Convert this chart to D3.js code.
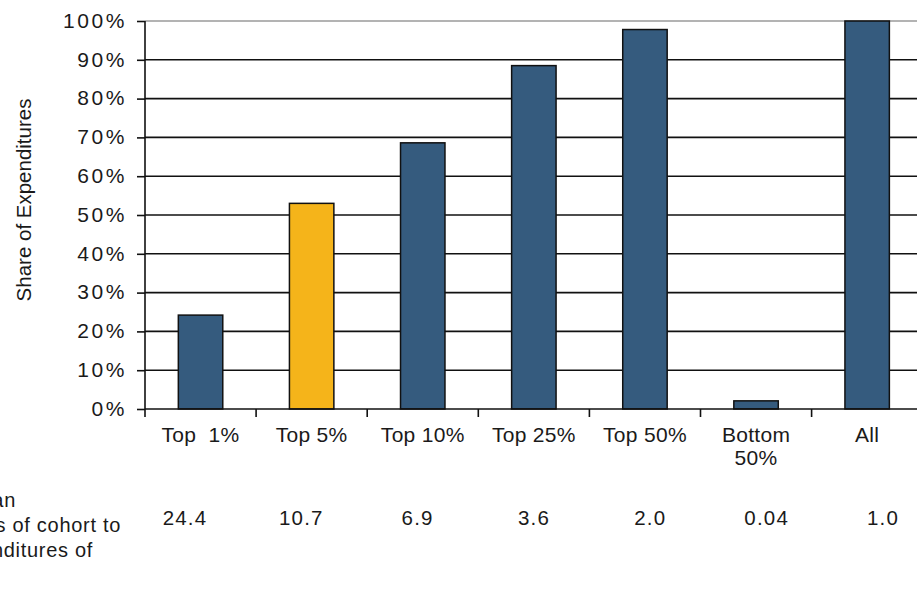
<!DOCTYPE html>
<html>
<head>
<meta charset="utf-8">
<script src="https://cdn.jsdelivr.net/npm/d3@7"></script>
<style>
  html, body { margin: 0; padding: 0; background: #fff; }
  svg { display: block; font-family: "Liberation Sans", Arial, sans-serif; }
</style>
</head>
<body>
<svg id="chart" width="917" height="591"></svg>
<script>
// ---- data ----
const categories = ["Top  1%", "Top 5%", "Top 10%", "Top 25%", "Top 50%", "Bottom\n50%", "All"];
const shares = [24.2, 53.0, 68.6, 88.5, 97.8, 2.1, 100];          // share of expenditures (%)
const ratios = ["24.4", "10.7", "6.9", "3.6", "2.0", "0.04", "1.0"]; // ratio to average
const highlight = ["Top 5%"];
const yTicks = [0, 10, 20, 30, 40, 50, 60, 70, 80, 90, 100];
const ratioCaption = ["Ratio of mean", "expenditures of cohort to", "mean expenditures of"];
// caption is clipped by the left edge, as in the original; line ends
const captionEnds = [16, 121, 93];

const BLUE = "#355b7e", GOLD = "#f5b41a";

const svg = d3.select("#chart");
const W = 917;
const plot = { left: 145, top: 21, bottom: 409, step: 111.1 };

// ---- scales ----
const x = d3.scaleBand()
  .domain(categories)
  .range([plot.left, plot.left + plot.step * categories.length])
  .paddingInner(0.6).paddingOuter(0.3);

const y = d3.scaleLinear().domain([0, 100]).range([plot.bottom, plot.top]);

// ratio row sits on its own, slightly wider spacing
const xr = d3.scalePoint().domain(d3.range(ratios.length)).range([185, 883]);

// ---- gridlines ----
svg.append("g")
  .selectAll("line")
  .data(yTicks.filter(d => d > 0))
  .join("line")
  .attr("x1", plot.left).attr("x2", W)
  .attr("y1", d => y(d)).attr("y2", d => y(d))
  .attr("stroke", d => d === 100 ? "#9a9a9a" : "#111")
  .attr("stroke-width", d => d === 100 ? 1.5 : 1.6);

// ---- bars ----
svg.append("g")
  .selectAll("rect")
  .data(categories)
  .join("rect")
  .attr("x", d => x(d))
  .attr("width", x.bandwidth())
  .attr("y", (d, i) => y(shares[i]))
  .attr("height", (d, i) => plot.bottom - y(shares[i]))
  .attr("fill", d => highlight.includes(d) ? GOLD : BLUE)
  .attr("stroke", "#111")
  .attr("stroke-width", 1.5);

// ---- y axis ----
const yAxis = svg.append("g")
  .attr("transform", `translate(${plot.left},0)`)
  .call(d3.axisLeft(y).tickValues(yTicks).tickSize(8).tickFormat(d => d + "%"));
yAxis.select(".domain").attr("stroke", "#111").attr("stroke-width", 1.6)
  .attr("d", `M0,${plot.top}V${plot.bottom}`);
yAxis.selectAll(".tick line").attr("stroke", "#111").attr("stroke-width", 1.6);
yAxis.selectAll(".tick text")
  .attr("x", -18)
  .attr("dy", "0.3em")
  .attr("font-size", 21)
  .attr("letter-spacing", "2.6px")
  .attr("fill", "#1a1a1a");

// ---- x axis ----
svg.append("line")
  .attr("x1", plot.left).attr("x2", W)
  .attr("y1", plot.bottom).attr("y2", plot.bottom)
  .attr("stroke", "#111").attr("stroke-width", 1.6);

svg.append("g")
  .selectAll("line")
  .data(d3.range(categories.length + 1))
  .join("line")
  .attr("x1", i => plot.left + i * x.step()).attr("x2", i => plot.left + i * x.step())
  .attr("y1", plot.bottom).attr("y2", plot.bottom + 8)
  .attr("stroke", "#111").attr("stroke-width", 1.6);

const catLabels = svg.append("g")
  .selectAll("text")
  .data(categories)
  .join("text")
  .attr("x", d => x(d) + x.bandwidth() / 2)
  .attr("y", 442)
  .attr("text-anchor", "middle")
  .attr("font-size", 21)
  .attr("letter-spacing", "0.3px")
  .attr("fill", "#1a1a1a");
catLabels.selectAll("tspan")
  .data(d => d.split("\n"))
  .join("tspan")
  .attr("x", function() { return d3.select(this.parentNode).attr("x"); })
  .attr("dy", (d, i) => i === 0 ? 0 : 23)
  .style("white-space", "pre")
  .text(d => d);

// ---- y title ----
svg.append("text")
  .attr("transform", `translate(31,${(plot.top + plot.bottom) / 2 - 15}) rotate(-90)`)
  .attr("text-anchor", "middle")
  .attr("font-size", 20.5)
  .attr("fill", "#1a1a1a")
  .text("Share of Expenditures");

// ---- ratio row ----
svg.append("g")
  .selectAll("text")
  .data(ratios)
  .join("text")
  .attr("x", (d, i) => xr(i))
  .attr("y", 525)
  .attr("text-anchor", "middle")
  .attr("font-size", 20.5)
  .attr("letter-spacing", "1.2px")
  .attr("fill", "#1a1a1a")
  .text(d => d);

svg.append("g")
  .selectAll("text")
  .data(ratioCaption)
  .join("text")
  .attr("x", (d, i) => captionEnds[i])
  .attr("y", (d, i) => 507 + i * 25)
  .attr("text-anchor", "end")
  .attr("font-size", 20)
  .attr("letter-spacing", "0.7px")
  .attr("fill", "#1a1a1a")
  .text(d => d);
</script>
</body>
</html>
